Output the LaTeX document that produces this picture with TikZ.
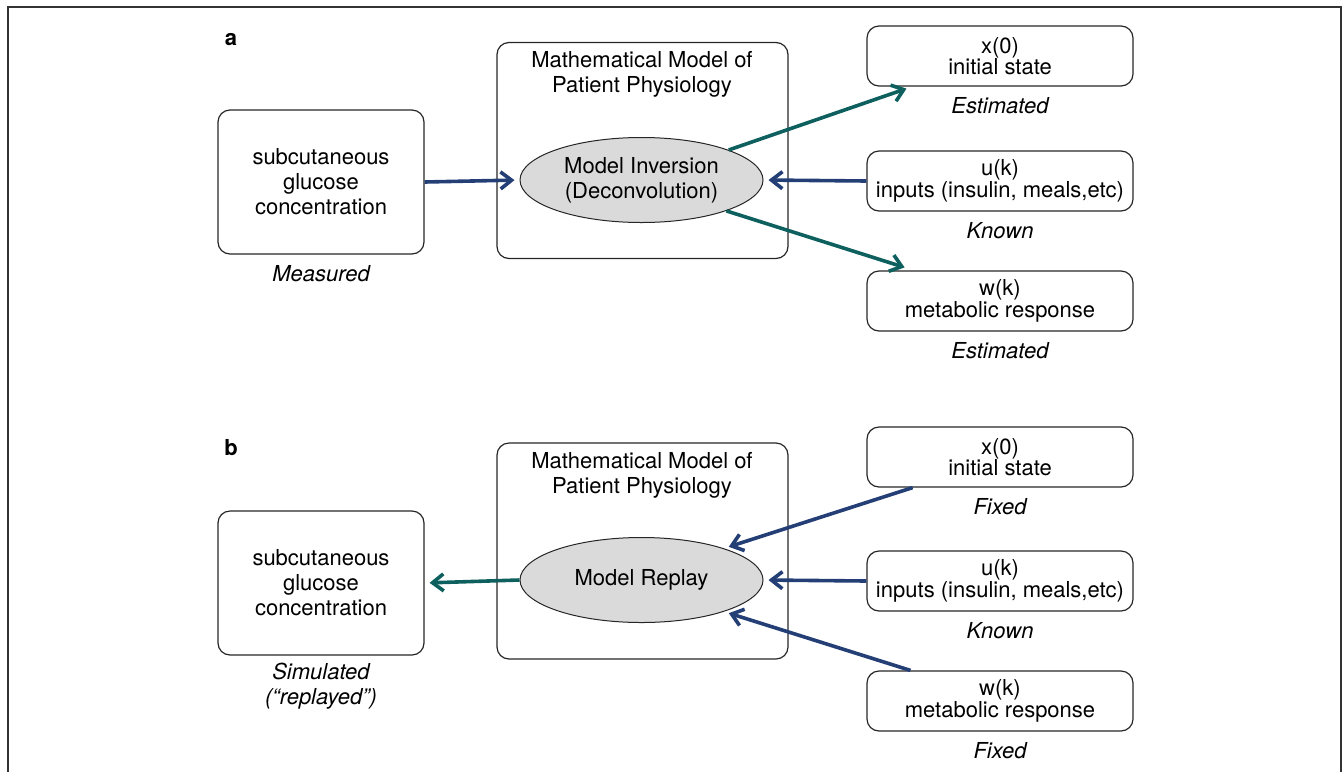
\documentclass[tikz,border=0pt]{standalone}
\usepackage{fontspec}
\setmainfont{TeX Gyre Heros}
\usetikzlibrary{arrows.meta,shapes.geometric,calc}
\definecolor{navyc}{RGB}{36,62,118}
\definecolor{tealc}{RGB}{14,96,94}
\definecolor{ellfill}{RGB}{218,218,218}
\begin{document}
\begin{tikzpicture}[x=1pt,y=-1pt,
  every node/.style={font=\fontsize{22}{25}\selectfont,inner sep=0pt,align=center},
  box/.style={draw=black!85,line width=1.2pt,rounded corners=12pt},
  gbox/.style={box,minimum width=206pt,minimum height=144pt},
  mbox/.style={box,minimum width=291pt,minimum height=216pt},
  vbox/.style={box,minimum width=266pt,minimum height=60pt,font=\fontsize{22}{21.5}\selectfont},
  ell/.style={draw=black!85,line width=1pt,ellipse,fill=ellfill,minimum width=243pt,minimum height=85pt},
  tag/.style={font=\fontsize{22}{25}\selectfont\itshape},
  panel/.style={font=\fontsize{22}{25}\selectfont\bfseries},
  barrow/.style={draw=navyc,line width=3.6pt,-{Straight Barb[length=11pt,width=17pt]}},
  tarrow/.style={draw=tealc,line width=3.6pt,-{Straight Barb[length=11pt,width=17pt]}}
]
\useasboundingbox (0,0) rectangle (1343,772);
\draw[line width=1.3pt,draw=black!80] (8,772) -- (8,7) -- (1341,7) -- (1341,772);

% ---------- panel a ----------
\node[panel] (pa) at (231,40) {a};
\node[gbox] (lbA) at (321,182) {subcutaneous\\glucose\\concentration};
\node[tag] (measA) at (321,274) {Measured};
\node[mbox] (mbA) at (642.5,150.5) {};
\node (mtA) at (642,74.5) {Mathematical Model of\\Patient Physiology};
\node[ell] (elA) at (641.5,180) {Model Inversion\\(Deconvolution)};
\node[vbox] (xA) at (1000,56) {x(0)\\initial state};
\node[tag] (xtA) at (1000,106) {Estimated};
\node[vbox] (uA) at (1000,181) {u(k)\\inputs (insulin, meals,etc)};
\node[tag] (utA) at (1000,231) {Known};
\node[vbox] (wA) at (1000,301) {w(k)\\metabolic response};
\node[tag] (wtA) at (1000,351) {Estimated};

\draw[barrow,shorten >=5pt] (lbA.east) -- (elA.west);
\draw[barrow,shorten >=5pt] (uA.west) -- (elA.east);
\coordinate (xAin) at ($(xA.south west)!0.15!(xA.south east)+(0,2)$);
\coordinate (wAin) at ($(wA.north west)!0.143!(wA.north east)+(0,-3)$);
\draw[tarrow] (elA.19) -- (xAin);
\draw[tarrow] (elA.-20) -- (wAin);

% ---------- panel b ----------
\node[panel] (pb) at (231,448) {b};
\node[gbox] (lbB) at (321,583) {subcutaneous\\glucose\\concentration};
\node[tag] (measB) at (321,686.5) {Simulated\\(“replayed”)};
\node[mbox] (mbB) at (642.5,551) {};
\node (mtB) at (642,475.5) {Mathematical Model of\\Patient Physiology};
\node[ell] (elB) at (641.5,580) {Model Replay};
\node[vbox] (xB) at (1000,457) {x(0)\\initial state};
\node[tag] (xtB) at (1000,507) {Fixed};
\node[vbox] (uB) at (1000,581) {u(k)\\inputs (insulin, meals,etc)};
\node[tag] (utB) at (1000,631) {Known};
\node[vbox] (wB) at (1000,701) {w(k)\\metabolic response};
\node[tag] (wtB) at (1000,751) {Fixed};

\draw[tarrow,shorten >=5pt] (elB.west) -- (lbB.east);
\coordinate (xBout) at ($(xB.south west)!0.173!(xB.south east)$);
\coordinate (wBout) at ($(wB.north west)!0.165!(wB.north east)$);
\draw[barrow,shorten >=5pt] (xBout) -- (elB.21);
\draw[barrow,shorten >=5pt] (uB.west) -- (elB.east);
\draw[barrow,shorten >=5pt] (wBout) -- (elB.-21);
\end{tikzpicture}
\end{document}
